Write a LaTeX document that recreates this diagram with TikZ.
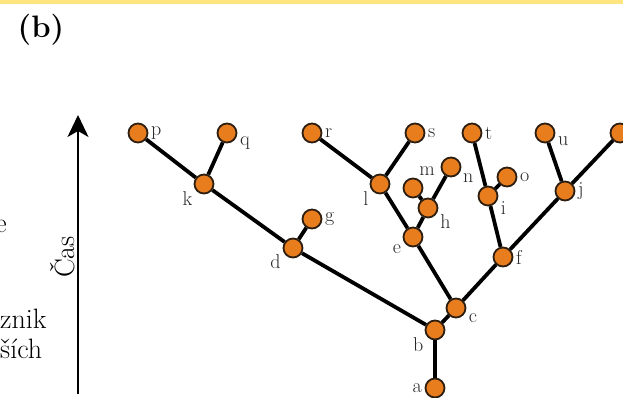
\documentclass[tikz,border=0pt]{standalone}
\usepackage{xcolor}
\usepackage{tikz}
\usetikzlibrary{arrows.meta}

\definecolor{bandyellow}{RGB}{255,229,128}
\definecolor{taxonfill}{RGB}{232,125,30}
\definecolor{taxonrim}{RGB}{45,30,15}

\begin{document}
\begin{tikzpicture}[x=1pt, y=-1pt,
    taxon/.style={circle, draw=taxonrim, fill=taxonfill, line width=1.8pt, minimum size=19pt, inner sep=0pt},
    branch/.style={line width=3.8pt, black},
    every label/.style={font=\fontsize{20}{22}\selectfont, text=black!85, inner sep=2.5pt}]
          \useasboundingbox (0,0) rectangle (623,398);
          \clip (0,0) rectangle (623,398);
          \fill[bandyellow] (0,0) rectangle (623,4);
          \node[font=\fontsize{31}{33}\selectfont\bfseries] (panel) at (41,30) {(b)};

          % time axis and cut-off text on the left
          \coordinate (tbot) at (78,394);
          \coordinate (ttop) at (78,115);
          \draw[line width=2pt, -{Stealth[length=22pt, width=21pt, inset=6pt]}] (tbot) -- (ttop);
          \node[rotate=90, font=\fontsize{28}{30}\selectfont] (cas) at (63,257) {Čas};
          \node[anchor=base east, inner sep=0pt, font=\fontsize{28}{30}\selectfont] (cut1) at (7,232) {e};
          \node[anchor=base west, inner sep=0pt, font=\fontsize{28}{30}\selectfont] (cut2) at (0,328) {znik};
          \node[anchor=base west, inner sep=0pt, font=\fontsize{28}{30}\selectfont] (cut3) at (0,358) {ších};

          % tree
          \node[taxon, label=180:a] (a) at (435,388) {};
          \node[taxon, label=210:b] (b) at (435,330) {};
          \node[taxon, label=-15:c] (c) at (456,308) {};
          \node[taxon, label=200:d] (d) at (293,248) {};
          \node[taxon, label=207:e] (e) at (413,237) {};
          \node[taxon, label=0:f] (f) at (503,257) {};
          \node[taxon, label=0:g] (g) at (312,219) {};
          \node[taxon, label=-20:h] (h) at (428,208) {};
          \node[taxon, label=-15:i] (i) at (488,196) {};
          \node[taxon, label=0:j] (j) at (565,191) {};
          \node[taxon, label=210:k] (k) at (204,184) {};
          \node[taxon, label=210:l] (l) at (380,184) {};
          \node[taxon, label=70:m] (m) at (413,188) {};
          \node[taxon, label=-25:n] (n) at (451,167) {};
          \node[taxon, label=0:o] (o) at (507,177) {};
          \node[taxon, label=0:p] (p) at (138,133) {};
          \node[taxon, label=-5:q] (q) at (227,133) {};
          \node[taxon, label=0:r] (r) at (312,133) {};
          \node[taxon, label=0:s] (s) at (415,133) {};
          \node[taxon, label=0:t] (t) at (472,133) {};
          \node[taxon, label=-5:u] (u) at (545,133) {};
          \node[taxon] (v) at (620,133) {};

          \draw[branch] (a) -- (b);
          \draw[branch] (b) -- (c);
          \draw[branch] (b) -- (d);
          \draw[branch] (d) -- (g);
          \draw[branch] (d) -- (k);
          \draw[branch] (k) -- (p);
          \draw[branch] (k) -- (q);
          \draw[branch] (c) -- (e);
          \draw[branch] (c) -- (f);
          \draw[branch] (e) -- (l);
          \draw[branch] (e) -- (h);
          \draw[branch] (l) -- (r);
          \draw[branch] (l) -- (s);
          \draw[branch] (h) -- (m);
          \draw[branch] (h) -- (n);
          \draw[branch] (f) -- (i);
          \draw[branch] (f) -- (j);
          \draw[branch] (i) -- (t);
          \draw[branch] (i) -- (o);
          \draw[branch] (j) -- (u);
          \draw[branch] (j) -- (v);
      \end{tikzpicture}
\end{document}
